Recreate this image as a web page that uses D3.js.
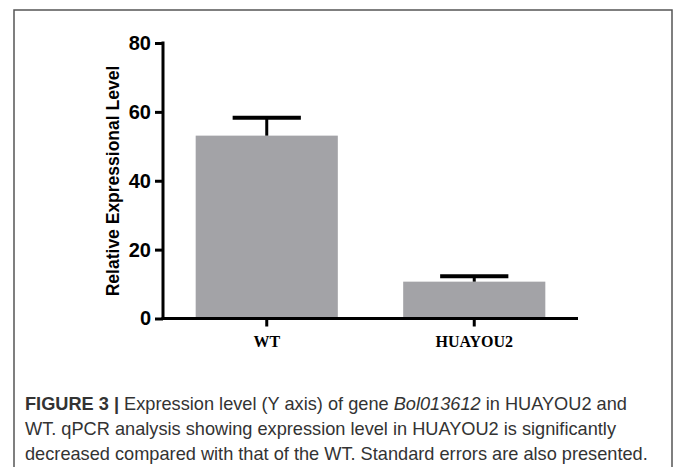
<!DOCTYPE html>
<html>
<head>
<meta charset="utf-8">
<script src="https://cdn.jsdelivr.net/npm/d3@7"></script>
<style>
  body { margin: 0; background: #fff; }
  svg { display: block; }
</style>
</head>
<body>
<svg id="chart" width="673" height="467"></svg>
<script>
// data
var categories = ["WT", "HUAYOU2"];
var means = [53.1, 10.7];
var errors = [5.2, 1.6];
var yTicks = [0, 20, 40, 60, 80];
var yTitle = "Relative Expressional Level";

var svg = d3.select("#chart");

// frame round the figure
svg.append("rect")
    .attr("x", 14).attr("y", 10)
    .attr("width", 658).attr("height", 470)
    .attr("fill", "none")
    .attr("stroke", "#555")
    .attr("stroke-width", 1.5);

var x = d3.scaleBand()
    .domain(categories)
    .range([163, 578])
    .paddingInner(0.315)
    .paddingOuter(0.1575);

var y = d3.scaleLinear()
    .domain([0, 80])
    .range([318.5, 43]);

var rows = categories.map(function(c, i){
    return {cat: c, mean: means[i], err: errors[i]};
});

// bars
svg.append("g")
    .selectAll("rect")
    .data(rows)
    .enter()
    .append("rect")
    .attr("x", function(d){ return x(d.cat); })
    .attr("y", function(d){ return y(d.mean); })
    .attr("width", x.bandwidth())
    .attr("height", function(d){ return y(0) - y(d.mean); })
    .attr("fill", "#a3a3a7");

// error bars (upper only)
var eb = svg.append("g").attr("stroke", "#000");
eb.selectAll("line.stem")
    .data(rows)
    .enter()
    .append("line")
    .attr("class", "stem")
    .attr("x1", function(d){ return x(d.cat) + x.bandwidth() / 2; })
    .attr("x2", function(d){ return x(d.cat) + x.bandwidth() / 2; })
    .attr("y1", function(d){ return y(d.mean); })
    .attr("y2", function(d){ return y(d.mean + d.err); })
    .attr("stroke-width", 3);
eb.selectAll("line.cap")
    .data(rows)
    .enter()
    .append("line")
    .attr("class", "cap")
    .attr("x1", function(d){ return x(d.cat) + x.bandwidth() * 0.26; })
    .attr("x2", function(d){ return x(d.cat) + x.bandwidth() * 0.74; })
    .attr("y1", function(d){ return y(d.mean + d.err); })
    .attr("y2", function(d){ return y(d.mean + d.err); })
    .attr("stroke-width", 4);

// y axis
var yAxis = svg.append("g")
    .attr("transform", "translate(163,0)")
    .call(d3.axisLeft(y).tickValues(yTicks).tickSize(8).tickPadding(4).tickSizeOuter(0));
yAxis.select(".domain").attr("stroke-width", 3).attr("d", "M0," + (y(0) + 1.5) + "V" + (y(80) - 1.5));
yAxis.selectAll(".tick line").attr("stroke-width", 3);
yAxis.selectAll(".tick text")
    .attr("fill", "#000")
    .style("font-family", "'Liberation Sans', Arial, sans-serif")
    .style("font-weight", "bold")
    .style("font-size", "20px");

// x axis
var xAxis = svg.append("g")
    .attr("transform", "translate(0," + y(0) + ")")
    .call(d3.axisBottom(x).tickSize(8).tickPadding(9).tickSizeOuter(0));
xAxis.select(".domain").attr("stroke-width", 3).attr("d", "M161.5,0H578");
xAxis.selectAll(".tick line").attr("stroke-width", 3);
xAxis.selectAll(".tick text")
    .attr("fill", "#000")
    .style("font-family", "'Liberation Serif', 'Times New Roman', serif")
    .style("font-weight", "bold")
    .style("font-size", "16px");

// y title
svg.append("text")
    .attr("transform", "translate(119,181) rotate(-90)")
    .attr("text-anchor", "middle")
    .style("font-family", "'Liberation Sans', Arial, sans-serif")
    .style("font-weight", "bold")
    .style("font-size", "17.5px")
    .text(yTitle);

// caption
var capFont = "'Liberation Sans Narrow', 'Arial Narrow', sans-serif";
var cap = svg.append("g")
    .attr("fill", "#333")
    .style("font-family", capFont)
    .style("font-size", "18.2px");

var l1 = cap.append("text").attr("x", 25).attr("y", 410);
l1.append("tspan").style("font-weight", "bold").text("FIGURE 3 |");
l1.append("tspan").text(" Expression level (Y axis) of gene ");
l1.append("tspan").style("font-style", "italic").text("Bol013612");
l1.append("tspan").text(" in HUAYOU2 and");

cap.append("text").attr("x", 25).attr("y", 435)
    .text("WT. qPCR analysis showing expression level in HUAYOU2 is significantly");
cap.append("text").attr("x", 25).attr("y", 460)
    .text("decreased compared with that of the WT. Standard errors are also presented.");
</script>
</body>
</html>
